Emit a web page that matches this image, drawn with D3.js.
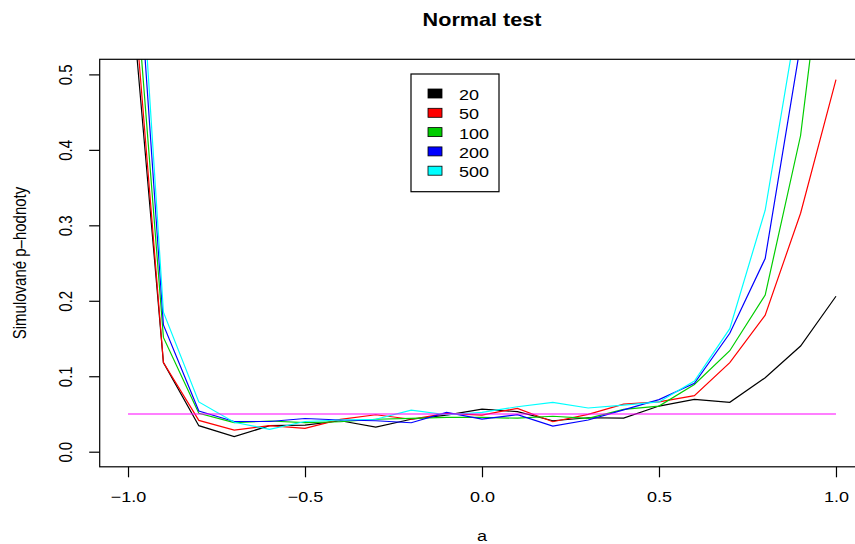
<!DOCTYPE html>
<html lang="cs">
<head>
<meta charset="UTF-8">
<title>Normal test</title>
<style>
  body { margin: 0; background: #fff; }
  svg { display: block; font-family: "Liberation Sans", Arial, sans-serif; }
</style>
</head>
<body>
<svg id="chart" width="855" height="544"></svg>
<script src="https://d3js.org/d3.v7.min.js"></script>
<script>
// --- data ---
const aValues = [-1.0, -0.9, -0.8, -0.7, -0.6, -0.5, -0.4, -0.3, -0.2, -0.1, 0.0,
                 0.1, 0.2, 0.3, 0.4, 0.5, 0.6, 0.7, 0.8, 0.9, 1.0];

const p20  = [0.66, 0.118, 0.0345, 0.020, 0.0345, 0.0353, 0.041, 0.0327, 0.043, 0.0486, 0.0565,
              0.053, 0.041, 0.045, 0.0446, 0.0605, 0.0694, 0.0654, 0.098, 0.140, 0.206];
const p50  = [0.70, 0.118, 0.0415, 0.0287, 0.0345, 0.031, 0.0428, 0.049, 0.043, 0.0508, 0.0486,
              0.0575, 0.0397, 0.0495, 0.063, 0.066, 0.0742, 0.118, 0.181, 0.316, 0.493];
const p100 = [0.75, 0.1515, 0.051, 0.0385, 0.0407, 0.0385, 0.0397, 0.043, 0.0442, 0.0455, 0.0455,
              0.0444, 0.047, 0.0442, 0.056, 0.0605, 0.089, 0.1338, 0.2075, 0.419, 0.80];
const p200 = [0.85, 0.168, 0.054, 0.040, 0.040, 0.044, 0.042, 0.041, 0.0384, 0.052, 0.0433,
              0.049, 0.034, 0.042, 0.0555, 0.069, 0.0906, 0.157, 0.256, 0.54, 0.88];
const p500 = [0.92, 0.185, 0.066, 0.039, 0.0297, 0.040, 0.042, 0.043, 0.0552, 0.049, 0.052,
              0.0596, 0.0654, 0.0579, 0.0617, 0.066, 0.0936, 0.163, 0.320, 0.60, 0.95];

const seriesNames  = ["20", "50", "100", "200", "500"];
const seriesColors = ["#000000", "#FF0000", "#00CD00", "#0000FF", "#00FFFF"];
const alphaLevel = 0.05;

const xTicks = [-1.0, -0.5, 0.0, 0.5, 1.0];
const yTicks = [0.0, 0.1, 0.2, 0.3, 0.4, 0.5];

// --- layout ---
const plot = { left: 99.7, right: 864.3, top: 59.3, bottom: 466.8 };
const stretch = 1.2; // picture is stretched horizontally

const svg = d3.select("#chart");

const x = d3.scaleLinear().domain([-1.08, 1.08]).range([plot.left, plot.right]);
const y = d3.scaleLinear().domain([-0.02, 0.52]).range([plot.bottom, plot.top]);

svg.append("clipPath").attr("id", "plotclip")
  .append("rect")
  .attr("x", plot.left).attr("y", plot.top)
  .attr("width", plot.right - plot.left).attr("height", plot.bottom - plot.top);

// lines
const allSeries = [p20, p50, p100, p200, p500];
const line = d3.line().x((d, i) => x(aValues[i])).y(d => y(d));

const lineGroup = svg.append("g").attr("clip-path", "url(#plotclip)");
allSeries.forEach((s, k) => {
  lineGroup.append("path")
    .datum(s)
    .attr("d", line)
    .attr("fill", "none")
    .attr("stroke", seriesColors[k])
    .attr("stroke-width", 1.2);
});

// reference line at 0.05
lineGroup.append("path")
  .datum([alphaLevel, alphaLevel])
  .attr("d", d3.line().x((d, i) => x(i === 0 ? -1 : 1)).y(d => y(d)))
  .attr("stroke", "#FF00FF")
  .attr("stroke-width", 1.2);

// box
svg.append("rect")
  .attr("x", plot.left).attr("y", plot.top)
  .attr("width", plot.right - plot.left).attr("height", plot.bottom - plot.top)
  .attr("fill", "none").attr("stroke", "#000").attr("stroke-width", 1.2);

// x axis
const fmt = d3.format(".1f");
const xAxis = svg.append("g")
  .attr("transform", `translate(0,${plot.bottom})`)
  .call(d3.axisBottom(x).tickValues(xTicks).tickFormat(fmt).tickSize(10.5).tickSizeOuter(0));
xAxis.select(".domain").remove();
xAxis.selectAll("line").attr("stroke-width", 1.2);
xAxis.selectAll("text")
  .attr("y", 0).attr("dy", null)
  .attr("transform", `translate(0,35) scale(${stretch},1)`)
  .attr("font-size", 15).attr("font-family", "Liberation Sans, Arial, sans-serif")
  .attr("fill", "#000");

// y axis
const yAxis = svg.append("g")
  .attr("transform", `translate(${plot.left},0)`)
  .call(d3.axisLeft(y).tickValues(yTicks).tickFormat(fmt).tickSize(10.5).tickSizeOuter(0));
yAxis.select(".domain").remove();
yAxis.selectAll("line").attr("stroke-width", 1.2);
yAxis.selectAll("text")
  .attr("x", 0).attr("y", 0).attr("dy", null)
  .attr("text-anchor", "middle")
  .attr("transform", `translate(-28.2,0) scale(${stretch},1) rotate(-90)`)
  .attr("font-size", 15).attr("font-family", "Liberation Sans, Arial, sans-serif")
  .attr("fill", "#000");

// title & axis labels
svg.append("text")
  .attr("transform", `translate(482,26) scale(${stretch},1)`)
  .attr("text-anchor", "middle")
  .attr("font-size", 18).attr("font-weight", "bold")
  .text("Normal test");

svg.append("text")
  .attr("transform", `translate(482,541) scale(${stretch},1)`)
  .attr("text-anchor", "middle")
  .attr("font-size", 15)
  .text("a");

svg.append("text")
  .attr("transform", `translate(26,263) scale(${stretch},1) rotate(-90)`)
  .attr("text-anchor", "middle")
  .attr("font-size", 15)
  .text("Simulované p–hodnoty");

// legend
const legend = svg.append("g");
legend.append("rect")
  .attr("x", 411).attr("y", 74).attr("width", 88).attr("height", 117.7)
  .attr("fill", "#fff").attr("stroke", "#000").attr("stroke-width", 1.2);

seriesNames.forEach((name, k) => {
  const cy = 93.5 + k * 19.3;
  legend.append("rect")
    .attr("x", 428).attr("y", cy - 4.5).attr("width", 14).attr("height", 9)
    .attr("fill", seriesColors[k]).attr("stroke", "#000").attr("stroke-width", 0.8);
  legend.append("text")
    .attr("transform", `translate(459,${cy + 6.5}) scale(${stretch},1)`)
    .attr("font-size", 15)
    .text(name);
});
</script>
</body>
</html>
